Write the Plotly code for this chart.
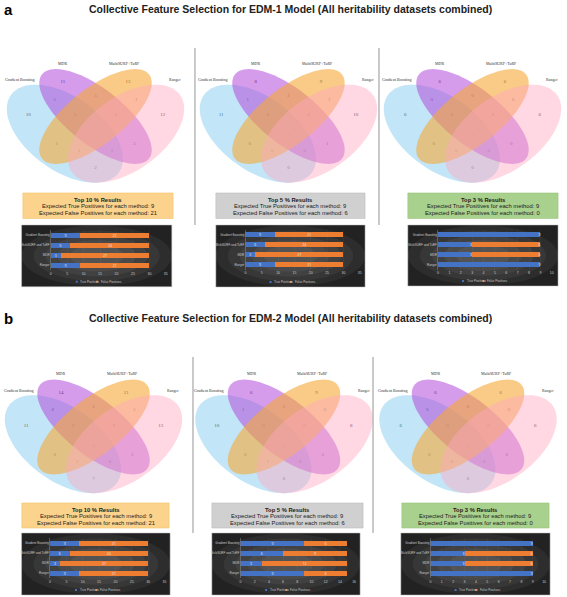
import math
import plotly.graph_objects as go

FIG_W, FIG_H = 567, 597

# ---------------- data ----------------
set_names = ["Gradient Boosting", "MDR", "MultiSURF+TuRF", "Ranger"]
# region order: GB, MDR, MS, R, GB&MDR, MDR&MS, MS&R, GB&MDR&MS, MDR&MS&R, ALL,
#               GB&MS, GB&MS&R, GB&MDR&R, MDR&R, GB&R
venn_a_top10 = [10, 11, 13, 12, 1, 5, 1, 3, 6, 2, 1, 1, 3, 3, 2]
venn_a_top5 = [11, 8, 9, 10, 1, 2, 1, 0, 0, 3, 0, 0, 0, 1, 0]
venn_a_top3 = [6, 6, 6, 6, 0, 0, 0, 0, 0, 3, 0, 0, 0, 0, 0]
venn_b_top10 = [11, 14, 21, 13, 8, 2, 3, 0, 0, 3, 0, 1, 0, 3, 7]
venn_b_top5 = [10, 6, 9, 8, 1, 2, 0, 0, 0, 3, 0, 1, 0, 3, 0]
venn_b_top3 = [6, 6, 6, 6, 0, 0, 0, 0, 0, 3, 0, 0, 0, 0, 0]

bar_categories = ["Gradient Boosting", "MultiSURF and TuRF", "MDR", "Ranger"]
tp_top10 = [9, 6, 3, 9]
fp_top10 = [21, 24, 27, 21]
tp_top5 = [9, 6, 3, 9]
fp_top5 = [6, 9, 12, 6]
tp_top3 = [9, 3, 3, 9]
fp_top3 = [0, 6, 6, 0]

box_titles = ["Top 10 % Results", "Top 5 % Results", "Top 3 % Results"]
expected_tp = [9, 9, 9]
expected_fp = [21, 6, 0]

panel_titles = ["Collective Feature Selection for EDM-1 Model (All heritability datasets combined)",
                "Collective Feature Selection for EDM-2 Model (All heritability datasets combined)"]
panel_letters = ["a", "b"]

# ---------------- layout constants ----------------
VW, VH = 205.0, 172.0
region_uv = [(0.17, 0.58), (0.34, 0.77), (0.66, 0.77), (0.83, 0.58),
             (0.30, 0.67), (0.50, 0.69), (0.70, 0.67), (0.40, 0.58), (0.60, 0.58),
             (0.50, 0.46), (0.31, 0.41), (0.42, 0.37), (0.58, 0.37), (0.69, 0.41),
             (0.50, 0.27)]
# (u, v, xanchor)
label_uv = [(0.047, 0.785, "left"), (0.34, 0.88, "center"), (0.64, 0.88, "center"), (0.89, 0.785, "center")]
ellipses = [  # uc, vc, a, b, angle, colour
    (0.35, 0.47, 0.35, 0.20, -45, "rgba(120,200,238,0.45)"),
    (0.50, 0.57, 0.36, 0.15, -45, "rgba(178,75,218,0.55)"),
    (0.50, 0.57, 0.36, 0.15, 45, "rgba(245,168,55,0.60)"),
    (0.65, 0.47, 0.35, 0.20, 45, "rgba(255,168,192,0.45)"),
]

venn_panels = [
    (95, 116.5, venn_a_top10), (289, 116.5, venn_a_top5), (474, 116.5, venn_a_top3),
    (93, 427, venn_b_top10), (284.5, 427, venn_b_top5), (469.5, 427, venn_b_top3),
]

fig = go.Figure()
shapes = []
annotations = []


def uv_to_px(cx, cy, u, v):
    return cx + (u - 0.5) * VW, cy - (v - 0.57) * VH


def ellipse_path(cx, cy, uc, vc, a, b, ang, n=96):
    t = math.radians(ang)
    pts = []
    for i in range(n):
        th = 2 * math.pi * i / n
        du = a * math.cos(th) * math.cos(t) - b * math.sin(th) * math.sin(t)
        dv = a * math.cos(th) * math.sin(t) + b * math.sin(th) * math.cos(t)
        x, y = uv_to_px(cx, cy, uc + du, vc + dv)
        pts.append(f"{x:.2f},{y:.2f}")
    return "M " + " L ".join(pts) + " Z"


for cx, cy, counts in venn_panels:
    for uc, vc, a, b, ang, col in ellipses:
        shapes.append(dict(type="path", xref="x", yref="y", path=ellipse_path(cx, cy, uc, vc, a, b, ang),
                           fillcolor=col, line=dict(width=0), layer="above"))
    xs, ys = [], []
    for (u, v) in region_uv:
        x, y = uv_to_px(cx, cy, u, v)
        xs.append(x)
        ys.append(y)
    fig.add_trace(go.Scatter(x=xs, y=ys, mode="text", text=[str(c) for c in counts],
                             textfont=dict(family="Liberation Serif", size=5, color="#222222"),
                             hoverinfo="skip", showlegend=False, xaxis="x", yaxis="y"))
    for name, (u, v, xa_) in zip(set_names, label_uv):
        x, y = uv_to_px(cx, cy, u, v)
        if xa_ == "left":
            x = max(x, 1.0)
        annotations.append(dict(x=x, y=y, xref="x", yref="y", text=name, showarrow=False, xanchor=xa_,
                                font=dict(family="Liberation Serif", size=4, color="#333333")))

# titles
title_y = [9, 318]
for letter, title, ty in zip(panel_letters, panel_titles, title_y):
    annotations.append(dict(x=7.5, y=ty, xref="x", yref="y", text=f"<b>{letter}</b>", showarrow=False,
                            font=dict(family="Liberation Sans", size=15, color="#000")))
    annotations.append(dict(x=291, y=ty, xref="x", yref="y", text=f"<b>{title}</b>", showarrow=False,
                            font=dict(family="Liberation Sans Narrow, Liberation Sans", size=10.5, color="#222")))

# dividers
for (x, y0, y1) in [(195, 48, 225), (380, 48, 225), (193, 357, 533), (374, 357, 533)]:
    shapes.append(dict(type="line", xref="x", yref="y", x0=x, x1=x, y0=y0, y1=y1,
                       line=dict(color="#a6a6a6", width=1.2)))

# result boxes
box_cols = ["#fcd38c", "#d0d0d0", "#a9d18e"]
box_edge = ["#f3c26a", "#bdbdbd", "#98c57a"]
box_geo = [
    [(22, 173, 193, 218.5), (216, 366, 193, 218.5), (409, 560, 193, 218.5)],
    [(21, 169, 503, 528), (212, 364, 503, 528), (403, 551, 503, 528)],
]
for p in range(2):
    for k in range(3):
        x0, x1, y0, y1 = box_geo[p][k]
        shapes.append(dict(type="rect", xref="x", yref="y", x0=x0, x1=x1, y0=y0, y1=y1,
                           fillcolor=box_cols[k], line=dict(color=box_edge[k], width=0.6), layer="below"))
        xc = (x0 + x1) / 2
        lines = [f"<b>{box_titles[k]}</b>",
                 f"Expected True Positives for each method: {expected_tp[k]}",
                 f"Expected False Positives for each method: {expected_fp[k]}"]
        for j, t in enumerate(lines):
            annotations.append(dict(x=xc, y=y0 + 6.8 + j * 6.5, xref="x", yref="y", text=t, showarrow=False,
                                    font=dict(family="Liberation Sans Narrow, Liberation Sans", size=5.8,
                                              color="#1a1a1a")))

# bar charts
bar_panels = [
    # box x0,x1,y0,y1, axis x0,x1, xmax, dtick, first bar y, tp, fp, anchor
    (20.7, 171.7, 225, 286.7, 50, 165.7, 35, 5, 235, tp_top10, fp_top10, "middle"),
    (216, 366, 225, 287, 245.7, 360.7, 35, 5, 234.5, tp_top10, fp_top10, "middle"),
    (409, 560, 225, 286, 439.3, 553.7, 10, 1, 234.5, tp_top3, fp_top3, "end"),
    (20.7, 170, 533, 595, 49.3, 164.3, 35, 5, 543.3, tp_top10, fp_top10, "middle"),
    (212, 361, 533, 595, 240.7, 355, 16, 2, 543.3, tp_top5, fp_top5, "middle"),
    (402, 552, 533, 595, 431.7, 546, 10, 1, 543.3, tp_top3, fp_top3, "end"),
]
layout_axes = {}
for i, (bx0, bx1, by0, by1, ax0, ax1, xmax, dt, yb0, tp, fp, anch) in enumerate(bar_panels):
    n = i + 2
    shapes.append(dict(type="rect", xref="x", yref="y", x0=bx0, x1=bx1, y0=by0, y1=by1,
                       fillcolor="#222222", line=dict(color="#bdbdbd", width=0.5), layer="below"))
    cxm, cym = (bx0 + bx1) / 2, (by0 + by1) / 2
    for r, op in [(0.50, 0.05), (0.42, 0.05), (0.34, 0.05), (0.26, 0.05), (0.18, 0.05)]:
        shapes.append(dict(type="circle", xref="x", yref="y",
                           x0=cxm - (bx1 - bx0) * r, x1=cxm + (bx1 - bx0) * r,
                           y0=cym - (by1 - by0) * r * 0.98, y1=cym + (by1 - by0) * r * 0.98,
                           fillcolor=f"rgba(255,255,255,{op})", line=dict(width=0), layer="below"))
    ytop = yb0 - 5
    ybot = yb0 + 35
    xa = dict(domain=[ax0 / FIG_W, ax1 / FIG_W], range=[0, xmax], dtick=dt, tick0=0,
              showgrid=True, gridcolor="rgba(255,255,255,0.07)", gridwidth=0.5, zeroline=False,
              tickfont=dict(family="Liberation Sans", size=3.5, color="#c8c8c8"), ticks="", ticklen=0,
              anchor=f"y{n}", fixedrange=True)
    ya = dict(domain=[1 - ybot / FIG_H, 1 - ytop / FIG_H], autorange="reversed", type="category",
              showgrid=False, zeroline=False, showline=True, linecolor="#8c8c8c", linewidth=0.5,
              tickfont=dict(family="Liberation Sans", size=3, color="#c8c8c8"), ticks="",
              anchor=f"x{n}", fixedrange=True)
    layout_axes[f"xaxis{n}"] = xa
    layout_axes[f"yaxis{n}"] = ya
    tp_text = [str(v) if v else "" for v in tp]
    fp_text = [str(v) if v else "" for v in fp]
    fig.add_trace(go.Bar(y=bar_categories, x=tp, orientation="h", marker=dict(color="#4472c4", line=dict(width=0)),
                         width=0.5, text=tp_text, textposition="inside", insidetextanchor=anch,
                         textfont=dict(size=3.5, color="#e8e8e8"), xaxis=f"x{n}", yaxis=f"y{n}",
                         showlegend=False, hoverinfo="skip"))
    fig.add_trace(go.Bar(y=bar_categories, x=fp, orientation="h", marker=dict(color="#ed7d31", line=dict(width=0)),
                         width=0.5, text=fp_text, textposition="inside", insidetextanchor=anch,
                         textfont=dict(size=3.5, color="#e8e8e8"), xaxis=f"x{n}", yaxis=f"y{n}",
                         showlegend=False, hoverinfo="skip"))
    # legend
    ly = by1 - 5
    lx = (bx0 + bx1) / 2
    for dx, col, lab in [(-20, "#4472c4", "True Positives"), (0.5, "#ed7d31", "False Positives")]:
        shapes.append(dict(type="rect", xref="x", yref="y", x0=lx + dx - 1.0, x1=lx + dx + 1.0,
                           y0=ly - 1.0, y1=ly + 1.0, fillcolor=col, line=dict(width=0)))
        annotations.append(dict(x=lx + dx + 1.6, y=ly, xref="x", yref="y", text=lab, showarrow=False,
                                xanchor="left", font=dict(family="Liberation Sans", size=3, color="#c8c8c8")))

fig.update_layout(
    width=FIG_W, height=FIG_H, margin=dict(l=0, r=0, t=0, b=0),
    paper_bgcolor="white", plot_bgcolor="rgba(0,0,0,0)",
    barmode="stack", showlegend=False,
    xaxis=dict(domain=[0, 1], range=[0, FIG_W], visible=False, fixedrange=True),
    yaxis=dict(domain=[0, 1], range=[FIG_H, 0], visible=False, fixedrange=True),
    shapes=shapes, annotations=annotations,
    uniformtext=dict(minsize=3, mode="show"),
    **layout_axes,
)

fig.write_html("out.html", config={"displayModeBar": False, "staticPlot": True},
               post_script="document.body.style.margin='0';document.body.style.padding='0';")
